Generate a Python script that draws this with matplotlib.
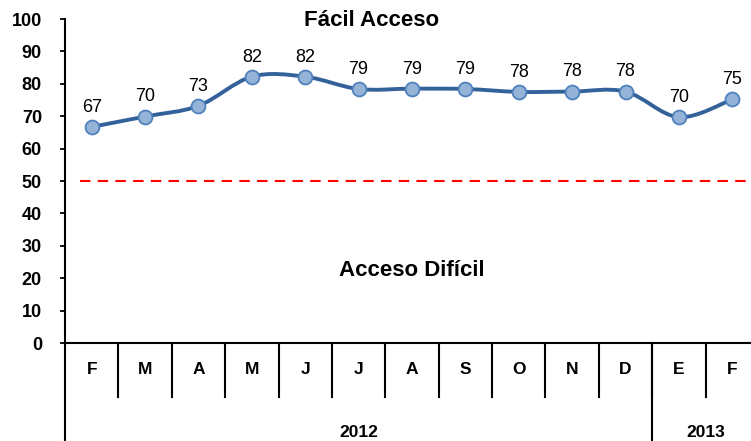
import numpy as np
import matplotlib
matplotlib.use("Agg")
import matplotlib.pyplot as plt
from matplotlib.path import Path
from matplotlib.patches import PathPatch
from matplotlib.transforms import blended_transform_factory

plt.rcParams['font.family'] = ['Liberation Sans', 'DejaVu Sans']

# data
months = ['F', 'M', 'A', 'M', 'J', 'J', 'A', 'S', 'O', 'N', 'D', 'E', 'F']
values = [66.7, 69.9, 73.2, 82.2, 82.2, 78.4, 78.5, 78.4, 77.5, 77.6, 77.6, 69.7, 75.2]
labels = ['67', '70', '73', '82', '82', '79', '79', '79', '78', '78', '78', '70', '75']
years = ['2012', '2013']
year_counts = [11, 2]
threshold = 50

line_col = '#33629A'
face_col = '#95B3D7'
edge_col = '#4F81BD'

fig = plt.figure(figsize=(7.51, 4.41), dpi=100)
ax = fig.add_axes([65 / 751, 98 / 441, 694 / 751, 324 / 441])

x = np.arange(len(values))
y = np.array(values)

# smoothed line (catmull-rom as cubic bezier, like excel "smoothed line")
verts = [(x[0], y[0])]
codes = [Path.MOVETO]
n = len(x)
for i in range(n - 1):
    p0 = np.array([x[max(i - 1, 0)], y[max(i - 1, 0)]])
    p1 = np.array([x[i], y[i]])
    p2 = np.array([x[i + 1], y[i + 1]])
    p3 = np.array([x[min(i + 2, n - 1)], y[min(i + 2, n - 1)]])
    c1 = p1 + (p2 - p0) / 6
    c2 = p2 - (p3 - p1) / 6
    verts += [tuple(c1), tuple(c2), tuple(p2)]
    codes += [Path.CURVE4] * 3
ax.add_patch(PathPatch(Path(verts, codes), facecolor='none', edgecolor=line_col,
                       lw=2.8, zorder=3, clip_on=False))
ax.plot(x, y, 'o', ms=10, mfc=face_col, mec=edge_col, mew=1.3, zorder=4, clip_on=False)

for xi, yi, lb in zip(x, y, labels):
    ax.annotate(lb, (xi, yi), xytext=(0, 8), textcoords='offset points',
                ha='center', va='bottom', fontsize=13)

ax.plot([-0.22, 12.5], [threshold, threshold], color='#FF0000', lw=1.5,
        dashes=(5, 3.5), zorder=2)

ax.text(5.25, 99.5, 'Fácil Acceso', ha='center', va='center', fontsize=16, fontweight='bold')
ax.text(6.0, 22.5, 'Acceso Difícil', ha='center', va='center', fontsize=16, fontweight='bold')

ax.set_xlim(-0.5, len(values) - 0.5)
ax.set_ylim(0, 100)
ax.set_yticks(range(0, 101, 10))
ax.tick_params(axis='y', labelsize=13, length=3.6, width=1.3, pad=13)
for t in ax.get_yticklabels():
    t.set_fontweight('bold')
ax.set_xticks([])
ax.spines['top'].set_visible(False)
ax.spines['right'].set_visible(False)
ax.spines['left'].set_linewidth(1.5)
ax.spines['bottom'].set_linewidth(1.5)

# category axis with month boxes and year groups
tr = blended_transform_factory(ax.transData, ax.transAxes)
for i in range(1, len(months)):
    ax.plot([i - 0.5, i - 0.5], [0, -0.167], color='black', lw=1.5, transform=tr, clip_on=False)
for i, m in enumerate(months):
    ax.text(i, -0.083, m, ha='center', va='center', fontsize=12.5, fontweight='bold', transform=tr)

edges = [0]
for c in year_counts:
    edges.append(edges[-1] + c)
for e in edges[:-1]:
    ax.plot([e - 0.5, e - 0.5], [0, -0.31], color='black', lw=1.5, transform=tr, clip_on=False)
for yr, a, b in zip(years, edges[:-1], edges[1:]):
    ax.text((a + b - 1) / 2, -0.275, yr, ha='center', va='center', fontsize=12.5,
            fontweight='bold', transform=tr)

fig.savefig('out.png', dpi=100)
